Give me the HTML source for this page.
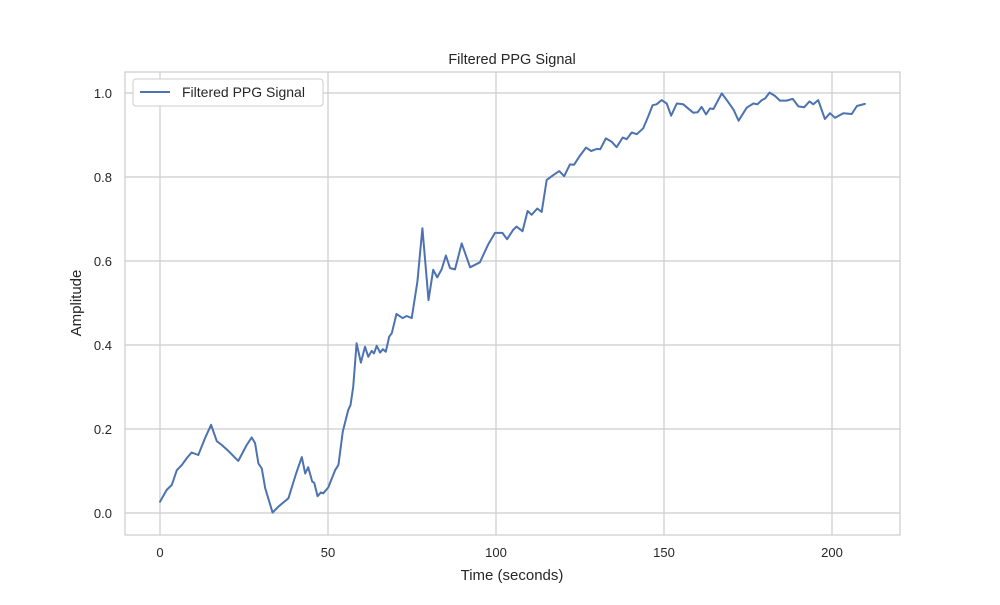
<!DOCTYPE html>
<html><head><meta charset="utf-8"><style>
body{margin:0;background:#fff;font-family:"Liberation Sans","DejaVu Sans",sans-serif}
svg text{font-family:"Liberation Sans","DejaVu Sans",sans-serif;fill:#262626}
</style></head><body>
<svg id="chart" width="1000" height="600">
<rect width="1000" height="600" fill="#fff"/>
<g id="grid"></g>
<rect x="125" y="72" width="775" height="463" fill="none" stroke="#cccccc" stroke-width="1.2"/>
<g id="ticks"></g>
<polyline id="line" fill="none" stroke="#4c72b0" stroke-width="2" stroke-linejoin="round" stroke-linecap="round"/>
<text x="512" y="64" text-anchor="middle" font-size="14.5">Filtered PPG Signal</text>
<text x="512" y="580" text-anchor="middle" font-size="15">Time (seconds)</text>
<text x="81" y="303" text-anchor="middle" font-size="15" transform="rotate(-90 81 303)">Amplitude</text>
<g>
<rect x="133" y="79" width="190" height="27" rx="3" fill="#fff" stroke="#cccccc"/>
<line x1="140" y1="92" x2="170" y2="92" stroke="#4c72b0" stroke-width="2"/>
<text x="182" y="97" font-size="14">Filtered PPG Signal</text>
</g>
</svg>
<script>
const times=[0,2,3.5,5,6.5,8,9.4,11.4,13.4,15.2,16.9,18.4,20.3,23.3,25.8,27.3,28.3,29.3,30.3,31.3,33.5,35.2,36.7,38.2,40.5,42.2,43.2,44.1,45.3,45.9,46.9,47.9,48.6,50.1,52.1,53.1,54.4,56,56.7,57.5,58.5,59.8,61,62,63,63.7,64.5,65.5,66.3,67.2,68.2,69,70.4,72.2,73.4,74.9,76.6,78.1,79.9,81.3,82.5,83.8,85.1,86.3,87.8,89.8,92.3,95.2,97.7,99.7,101.9,103.3,105.1,106.1,107.9,109.4,110.6,112.3,113.6,115.1,117.1,118.8,120.3,122,123.2,125,126.8,128.3,130,131,132.7,134.4,135.9,137.7,138.9,140.4,141.9,143.8,145.3,146.6,147.8,149.3,150.8,152.1,153.8,155.7,158.7,160,161.2,162.5,163.7,164.7,167.2,168.7,170.7,172.2,174.6,176.6,177.8,179.1,180.1,181.4,183,184.5,186.5,188.3,190,191.7,193.3,194.4,195.9,197.9,199.4,200.9,203.4,205.9,207.4,209.8];
const amplitudes=[0.027,0.055,0.067,0.102,0.114,0.131,0.144,0.138,0.178,0.21,0.171,0.162,0.148,0.124,0.162,0.18,0.166,0.118,0.106,0.059,0.001,0.015,0.025,0.035,0.094,0.133,0.094,0.109,0.075,0.072,0.04,0.049,0.047,0.061,0.102,0.114,0.194,0.245,0.257,0.300,0.404,0.358,0.396,0.372,0.386,0.38,0.398,0.382,0.39,0.384,0.42,0.428,0.474,0.464,0.469,0.464,0.551,0.678,0.507,0.579,0.561,0.58,0.613,0.583,0.58,0.642,0.585,0.597,0.64,0.667,0.667,0.652,0.674,0.682,0.671,0.719,0.71,0.725,0.717,0.793,0.805,0.814,0.802,0.83,0.829,0.851,0.87,0.862,0.867,0.866,0.892,0.884,0.871,0.894,0.89,0.906,0.902,0.916,0.944,0.971,0.973,0.983,0.975,0.946,0.975,0.973,0.953,0.954,0.967,0.949,0.963,0.962,0.999,0.983,0.96,0.934,0.965,0.975,0.973,0.983,0.987,1.001,0.993,0.982,0.982,0.986,0.968,0.966,0.98,0.973,0.983,0.938,0.952,0.941,0.952,0.95,0.969,0.974];
const xTicks=[0,50,100,150,200];
const yTicks=[0.0,0.2,0.4,0.6,0.8,1.0];
const xS=t=>160+t*3.36;
const yS=a=>513-a*420;
const NS='http://www.w3.org/2000/svg';
const grid=document.getElementById('grid'),tk=document.getElementById('ticks');
xTicks.forEach(v=>{
  const l=document.createElementNS(NS,'line');
  l.setAttribute('x1',xS(v));l.setAttribute('x2',xS(v));l.setAttribute('y1',72);l.setAttribute('y2',535);
  l.setAttribute('stroke','#cccccc');l.setAttribute('stroke-width','1.2');
  
  
  grid.appendChild(l);
  const t=document.createElementNS(NS,'text');
  t.setAttribute('x',xS(v));t.setAttribute('y',557);t.setAttribute('text-anchor','middle');t.setAttribute('font-size','13');
  t.textContent=v;
  
  
  tk.appendChild(t);
});
yTicks.forEach(v=>{
  const l=document.createElementNS(NS,'line');
  l.setAttribute('x1',125);l.setAttribute('x2',900);l.setAttribute('y1',yS(v));l.setAttribute('y2',yS(v));
  l.setAttribute('stroke','#cccccc');l.setAttribute('stroke-width','1.2');
  
  
  grid.appendChild(l);
  const t=document.createElementNS(NS,'text');
  t.setAttribute('x',112);t.setAttribute('y',yS(v)+5);t.setAttribute('text-anchor','end');t.setAttribute('font-size','13');
  t.textContent=v.toFixed(1);
  
  
  tk.appendChild(t);
});
document.getElementById('line').setAttribute('points',times.map((t,i)=>xS(t).toFixed(1)+','+yS(amplitudes[i]).toFixed(1)).join(' '));
</script>
</body></html>
